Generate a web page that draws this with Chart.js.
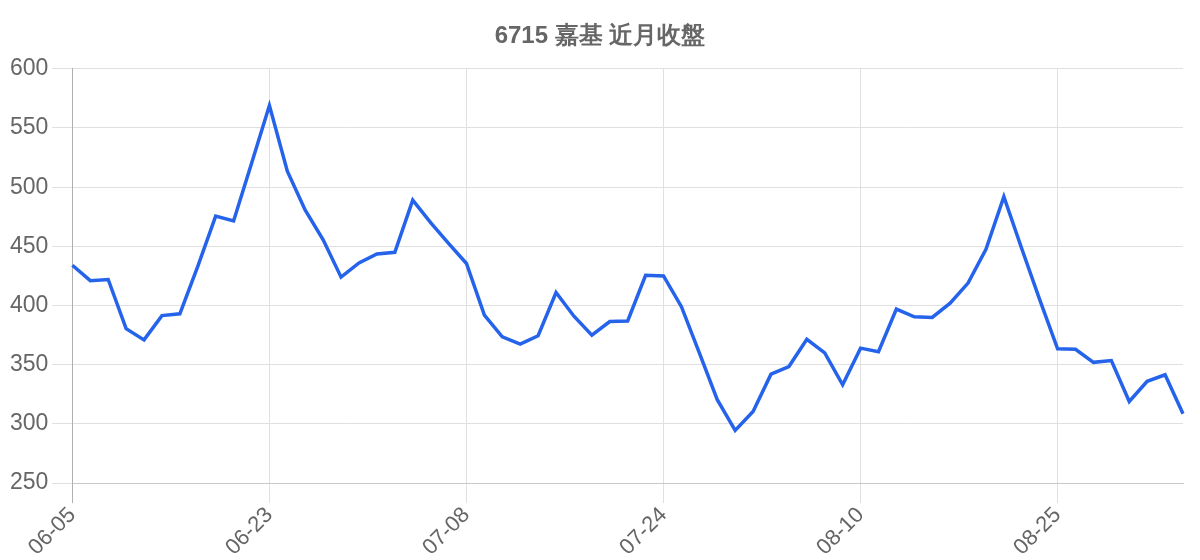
<!DOCTYPE html>
<html>
<head>
<meta charset="utf-8">
<script src="https://cdn.jsdelivr.net/npm/chart.js@4"></script>
<style>
  html, body { margin: 0; padding: 0; background: #fff; }
  #wrap { width: 1200px; height: 560px; position: relative; }
</style>
</head>
<body>
<div id="wrap"><canvas id="priceChart"></canvas></div>
<script>
// 近月收盤資料
const chartTitle = "6715 嘉基 近月收盤";

const dates = [
  "06-05", "06-06", "06-09", "06-10", "06-11", "06-12", "06-13", "06-16", "06-17", "06-18", "06-20",
  "06-23", "06-24", "06-25", "06-26", "06-27", "06-30", "07-01", "07-02", "07-03", "07-04", "07-07",
  "07-08", "07-09", "07-10", "07-11", "07-14", "07-15", "07-16", "07-17", "07-18", "07-21", "07-22",
  "07-24", "07-25", "07-28", "07-29", "07-30", "07-31", "08-01", "08-04", "08-05", "08-06", "08-07",
  "08-10", "08-11", "08-12", "08-13", "08-14", "08-15", "08-18", "08-19", "08-20", "08-21", "08-22",
  "08-25", "08-26", "08-27", "08-28", "08-29", "09-01", "09-02", "09-03"
];

const closes = [
  434, 421, 422, 380.5, 371, 391.5, 393, 433, 475.5, 471.5, 520,
  569, 513.5, 480.5, 455.5, 424, 436, 443.5, 445, 489, 470, 452.5,
  435.5, 392, 373.5, 367.5, 374.5, 411, 391, 375, 386.5, 387, 425.5,
  425, 399, 360, 320.5, 294.5, 310.5, 342, 348.5, 371.5, 360, 333,
  364, 361, 397, 390.5, 390, 402, 419, 447.5, 492, 448, 405,
  363.5, 363, 352, 353.5, 319, 336, 341.5, 308.5
];

const yMin = 250;
const yMax = 600;
const yStep = 50;

const fontFamily = "'Liberation Sans', Arial, Helvetica, sans-serif";

const ctx = document.getElementById('priceChart').getContext('2d');

new Chart(ctx, {
    type: 'line',
    data: {
        labels: dates,
        datasets: [{
            label: '收盤',
            data: closes,
            borderColor: '#2563eb',
            backgroundColor: '#2563eb',
            borderWidth: 3.5,
            pointRadius: 0,
            tension: 0,
            fill: false
        }]
    },
    options: {
        responsive: true,
        maintainAspectRatio: false,
        animation: false,
        layout: { padding: { left: 6, top: 10, right: 6, bottom: 0 } },
        plugins: {
            legend: { display: false },
            title: {
                display: true,
                text: chartTitle,
                color: '#666',
                font: { family: fontFamily, size: 24, weight: 'bold' },
                padding: { top: 12, bottom: 18 }
            },
            tooltip: { enabled: false }
        },
        scales: {
            x: {
                // deja espacio a la derecha para el último punto
                afterFit: (scale) => { scale.paddingRight = 17; },
                grid: {
                    color: (c) => c.index === 0 ? '#b0b0b0' : '#e0e0e0',
                    tickLength: 20
                },
                border: { color: '#c8c8c8' },
                ticks: {
                    color: '#666',
                    font: { family: fontFamily, size: 22, lineHeight: 1.1 },
                    maxRotation: 45,
                    minRotation: 45,
                    autoSkip: true,
                    maxTicksLimit: 6,
                    padding: 0
                }
            },
            y: {
                min: yMin,
                max: yMax,
                grid: { color: '#e0e0e0', tickLength: 20 },
                border: { color: '#b0b0b0' },
                ticks: {
                    stepSize: yStep,
                    color: '#666',
                    font: { family: fontFamily, size: 23 },
                    padding: 4
                }
            }
        }
    }
});
</script>
</body>
</html>
